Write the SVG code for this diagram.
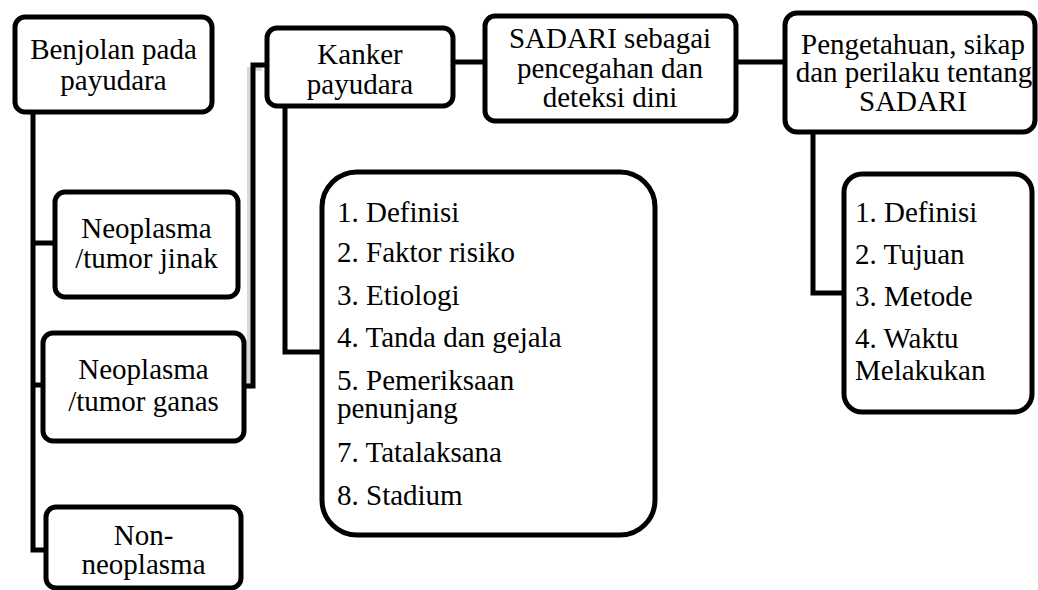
<svg xmlns="http://www.w3.org/2000/svg" width="1038" height="590" viewBox="0 0 1038 590">
<style>
.box{fill:#fff;stroke:#000;stroke-width:5}
.con{fill:none;stroke:#000;stroke-width:5;stroke-linejoin:miter}
.sh{fill:none;stroke:#d8d8d8;stroke-width:4}
text{font-family:"Liberation Serif","Times New Roman",serif;font-size:29px;fill:#000}
.c{text-anchor:middle}
</style>
<rect width="1038" height="590" fill="#fff"/>
<g id="connectors">
<polyline class="con" points="33,112 33,550 46,550"/>
<line class="con" x1="33" y1="243" x2="55" y2="243"/>
<line class="con" x1="33" y1="385" x2="43" y2="385"/>
<polyline class="sh" points="249,389 249,69 262,69"/>
<polyline class="con" points="244,386 253,386 253,65 267,65"/>
<polyline class="con" points="285,106 285,352 322,352"/>
<line class="con" x1="453" y1="62" x2="485" y2="62"/>
<line class="con" x1="736" y1="62" x2="785" y2="62"/>
<polyline class="con" points="813,132 813,293 844,293"/>
</g>
<g id="benjolan">
<rect class="box" x="15" y="17" width="197" height="95" rx="10"/>
<text class="c" x="113.5" y="59">Benjolan pada</text>
<text class="c" x="113.5" y="90">payudara</text>
</g>
<g id="jinak">
<rect class="box" x="55" y="192" width="183" height="105" rx="10"/>
<text class="c" x="146.5" y="238">Neoplasma</text>
<text class="c" x="146.5" y="268">/tumor jinak</text>
</g>
<g id="ganas">
<rect class="box" x="43" y="333" width="201" height="108" rx="10"/>
<text class="c" x="143.5" y="379">Neoplasma</text>
<text class="c" x="143.5" y="411">/tumor ganas</text>
</g>
<g id="nonneoplasma">
<rect class="box" x="46" y="507" width="195" height="81" rx="10"/>
<text class="c" x="143.5" y="545">Non-</text>
<text class="c" x="143.5" y="574">neoplasma</text>
</g>
<g id="kanker">
<rect class="box" x="267" y="28" width="186" height="78" rx="10"/>
<text class="c" x="360" y="64">Kanker</text>
<text class="c" x="360" y="94">payudara</text>
</g>
<g id="kanker-list">
<rect class="box" x="322" y="172" width="333" height="363" rx="35"/>
<text x="337" y="222">1. Definisi</text>
<text x="337" y="262">2. Faktor risiko</text>
<text x="337" y="305">3. Etiologi</text>
<text x="337" y="347">4. Tanda dan gejala</text>
<text x="337" y="390">5. Pemeriksaan</text>
<text x="337" y="418">penunjang</text>
<text x="337" y="462">7. Tatalaksana</text>
<text x="337" y="505">8. Stadium</text>
</g>
<g id="sadari">
<rect class="box" x="485" y="16" width="251" height="105" rx="10"/>
<text class="c" x="610" y="48">SADARI sebagai</text>
<text class="c" x="610" y="78">pencegahan dan</text>
<text class="c" x="610" y="107">deteksi dini</text>
</g>
<g id="pengetahuan">
<rect class="box" x="785" y="13" width="250" height="119" rx="12"/>
<text class="c" x="913" y="54">Pengetahuan, sikap</text>
<text class="c" x="914" y="82">dan perilaku tentang</text>
<text class="c" x="913" y="111">SADARI</text>
</g>
<g id="sadari-list">
<rect class="box" x="844" y="174" width="188" height="238" rx="18"/>
<text x="855" y="222">1. Definisi</text>
<text x="855" y="264">2. Tujuan</text>
<text x="855" y="306">3. Metode</text>
<text x="855" y="348">4. Waktu</text>
<text x="855" y="380">Melakukan</text>
</g>
</svg>
